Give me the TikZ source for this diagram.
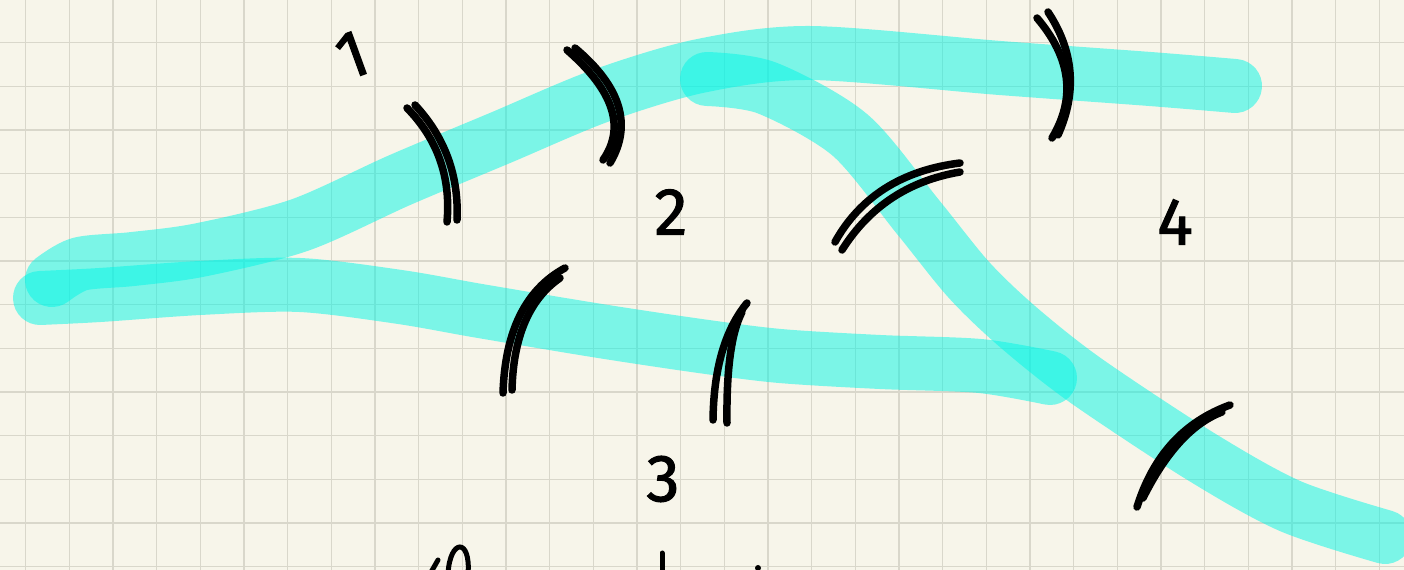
\documentclass[tikz,border=0pt]{standalone}
\usepackage{fontspec}
\newfontfamily\handfont{Fira Sans}[FakeBold=1.5]
\definecolor{paper}{HTML}{F7F5EA}
\definecolor{gridline}{HTML}{D9D7CB}
\definecolor{marker}{RGB}{0,245,230}
\tikzset{
  band/.style={draw=marker,opacity=0.5,line width=1.08cm,line cap=round,line join=round},
  cut/.style={draw=black,line width=0.15cm,line cap=round},
  digit/.style={font=\handfont\fontsize{38}{38}\selectfont,inner sep=0pt}
}

\begin{document}
\begin{tikzpicture}[x=0.02cm,y=-0.02cm]
% ---------- paper ----------
\useasboundingbox (0,0) rectangle (1404,570);
\fill[paper] (0,0) rectangle (1404,570);
\foreach \i in {0,...,31}
  \draw[gridline,line width=0.026cm] ({25.7+43.67*\i},0) -- ({25.7+43.67*\i},570);
\foreach \j in {1,...,13}
  \draw[gridline,line width=0.026cm] (0,{-1+43.67*\j}) -- (1404,{-1+43.67*\j});
% ---------- marker strokes ----------
\draw[band] plot[smooth,tension=0.5] coordinates {
  (52,280) (80,264) (133,259) (200,250) (300,225) (400,180) (500,138)
  (600,96) (700,66) (810,53) (1000,68) (1150,79) (1235,86)};
\draw[band] plot[smooth,tension=0.5] coordinates {
  (40,298) (100,295) (200,288) (300,285) (400,297) (480,311) (600,331)
  (700,346) (780,356) (880,362) (980,366) (1050,378)};
\draw[band] plot[smooth,tension=0.5] coordinates {
  (707,79) (767,88) (850,135) (918,217) (969,280) (1018,327) (1085,380)
  (1200,456) (1290,506) (1385,537)};
% ---------- double cuts ----------
\draw[cut] (407,108) .. controls (437.7,139.3) and (451,177.3) .. (447,222);
\draw[cut] (415,105) .. controls (445,137.3) and (459,175.7) .. (457,220);
\draw[cut] (567,50) .. controls (613.7,90.7) and (625.7,127.3) .. (603,160);
\draw[cut] (575,48) .. controls (621,86.7) and (632.7,125) .. (610,163);
\draw[cut] (1037,18) .. controls (1071,58) and (1076,98) .. (1052,138);
\draw[cut] (1048,12) .. controls (1074,51.3) and (1077.3,92.3) .. (1058,135);
\draw[cut] (835,242) .. controls (860.3,196.7) and (902,170.3) .. (960,163);
\draw[cut] (842,250) .. controls (869.3,206.7) and (908.7,180.7) .. (960,172);
\draw[cut] (1137,507) .. controls (1153,455.7) and (1184,421.7) .. (1230,405);
\draw[cut] (1143,498) .. controls (1166,452) and (1192.3,423.3) .. (1222,412);
\draw[cut] (565,268) .. controls (525.7,289.3) and (505,331) .. (503,393);
\draw[cut] (560,278) .. controls (529.3,299.3) and (513.3,336.7) .. (512,390);
\draw[cut] (747,303) .. controls (725,329.7) and (713.7,368.7) .. (713,420);
\draw[cut] (742,312) .. controls (731.3,332.7) and (726.3,369.7) .. (727,423);
% ---------- region numbers ----------
\node[digit,rotate=20] (one) at (352,55) {1};
\node[digit] (two) at (671,212) {2};
\node[digit] (three) at (663,479) {3};
\node[digit] (four) at (1175,222) {4};
% ---------- writing cut off at the bottom ----------
\draw[cut,line width=0.1cm] (430,574) -- (438,560);
\draw[cut,line width=0.1cm] (448,574) .. controls (450,538) and (471,538) .. (468,574);
\draw[cut,line width=0.1cm] (662,553) -- (662,574);
\fill (758,568) circle (3);
\end{tikzpicture}
\end{document}
